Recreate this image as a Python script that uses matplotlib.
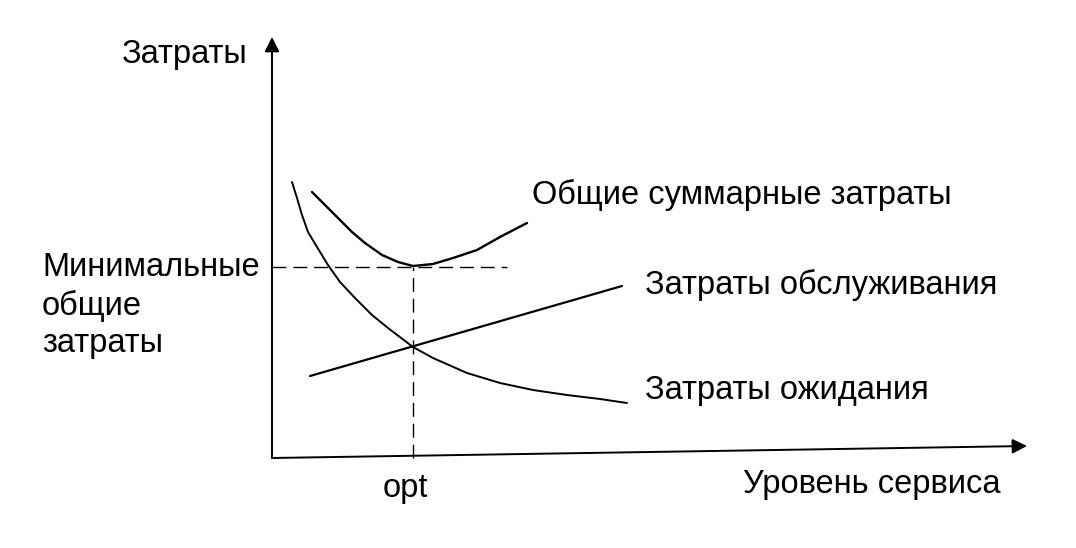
import matplotlib
matplotlib.use("Agg")
import matplotlib.pyplot as plt

plt.rcParams['font.family'] = ['Liberation Sans', 'DejaVu Sans']

# ======== Data ========
# x = service level, y = cost (arbitrary units)
wait_x = [2.0, 2.5, 3.0, 3.6, 4.5, 5.6, 6.8, 8.3, 10.0, 11.6, 14.1,
          16.1, 19.5, 22.8, 26.1, 29.5, 32.8, 35.5]
wait_y = [27.6, 26.0, 24.3, 22.6, 21.1, 19.3, 17.6, 16.0, 14.3, 13.0, 11.1,
          10.0, 8.5, 7.5, 6.8, 6.3, 5.9, 5.5]

service_x = [3.8, 35.0]
service_y = [8.2, 17.2]

total_x = [4.0, 5.3, 6.6, 8.0, 9.3, 11.0, 12.6, 14.1, 16.1, 18.1, 20.5, 22.8, 25.5]
total_y = [26.6, 25.3, 24.0, 22.6, 21.5, 20.3, 19.6, 19.2, 19.4, 20.0, 20.8, 22.1, 23.5]

opt_x = 14.1
min_total = 19.1
dash_end_x = 23.5

labels = {
    "total": "Общие суммарные затраты",
    "service": "Затраты обслуживания",
    "wait": "Затраты ожидания",
}
y_title = "Затраты"
x_title = "Уровень сервиса"
min_label = ["Минимальные", "общие", "затраты"]

# ======== Figure ========
fig = plt.figure(figsize=(10.76, 5.48), dpi=100)
ax = fig.add_axes([0, 0, 1, 1])
ax.set_xlim(-27.2, 80.4)
ax.set_ylim(-9.0, 45.8)
ax.axis("off")

ax.plot(wait_x, wait_y, color="black", lw=1.4, solid_capstyle="round",
        solid_joinstyle="round")
ax.plot(service_x, service_y, color="black", lw=1.6, solid_capstyle="round")
ax.plot(total_x, total_y, color="black", lw=1.7, solid_capstyle="round",
        solid_joinstyle="round")

# dashed guides
ax.plot([0, dash_end_x], [min_total, min_total], color="black", lw=1.0, dashes=(10, 5))
ax.plot([opt_x, opt_x], [0, min_total], color="black", lw=1.0, dashes=(10, 5))

# axes with arrows
arrow = dict(arrowstyle="-|>", lw=1.4, color="black", mutation_scale=22,
             shrinkA=0, shrinkB=0)
ax.annotate("", xy=(0, 42.1), xytext=(0, 0), arrowprops=arrow)
ax.annotate("", xy=(75.5, 1.2), xytext=(0, 0), arrowprops=arrow)

fs = 23.5
ax.text(-15.0, 40.3, y_title, fontsize=fs, va="center", ha="left")
ax.text(26.0, 26.3, labels["total"], fontsize=fs, va="center", ha="left")
ax.text(37.3, 17.3, labels["service"], fontsize=fs, va="center", ha="left")
ax.text(37.3, 6.8, labels["wait"], fontsize=fs, va="center", ha="left")
for i, line in enumerate(min_label):
    ax.text(-23.0, 19.0 - i * 3.8, line, fontsize=fs, va="center", ha="left")
ax.text(opt_x - 0.8, -3.0, "opt", fontsize=fs, va="center", ha="center")
ax.text(47.1, -2.6, x_title, fontsize=fs, va="center", ha="left")

fig.savefig("out.png", dpi=100, facecolor="white")
